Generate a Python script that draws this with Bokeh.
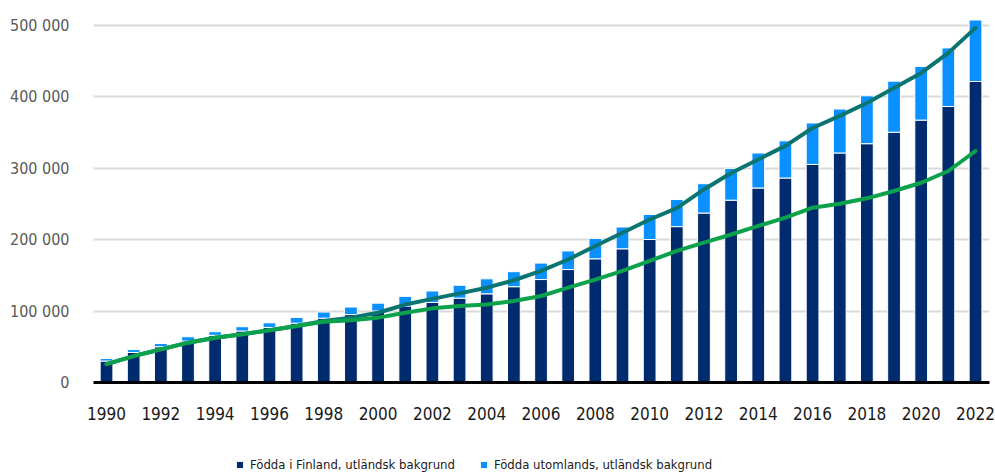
from bokeh.plotting import figure
from bokeh.layouts import column
from bokeh.models import ColumnDataSource, FixedTicker, Legend, LegendItem, Range1d
from bokeh.embed import file_html
from bokeh.resources import INLINE

years = [1990, 1991, 1992, 1993, 1994, 1995, 1996, 1997, 1998, 1999, 2000,
         2001, 2002, 2003, 2004, 2005, 2006, 2007, 2008, 2009, 2010, 2011,
         2012, 2013, 2014, 2015, 2016, 2017, 2018, 2019, 2020, 2021, 2022]

# Födda i Finland, utländsk bakgrund
born_in_finland = [30000, 42000, 50000, 58000, 66000, 72000, 77000, 83000, 90000, 95000, 100000,
                   107000, 112000, 118000, 124000, 134000, 144000, 158000, 173000, 187000, 200000, 218000,
                   237000, 255000, 272000, 286000, 305000, 321000, 334000, 350000, 367000, 386000, 421000]

# Födda utomlands, utländsk bakgrund
born_abroad = [3500, 4000, 4500, 6000, 5000, 6000, 6500, 8000, 8500, 10500, 11000,
               13500, 16000, 18000, 21000, 21000, 23000, 26000, 28500, 30500, 35000, 38000,
               41000, 44500, 49000, 52000, 58000, 61500, 67000, 71500, 75000, 82000, 86000]

# teal line (upper)
line_upper = [25600, 37000, 46400, 55700, 62700, 67400, 73000, 79000, 86000, 90700, 97600,
              109000, 117000, 124700, 132600, 143000, 156000, 172000, 191000, 209500, 228000, 244000,
              270000, 293000, 312000, 331000, 356000, 373000, 391000, 412000, 433000, 461000, 496000]

# green line (lower)
line_lower = [25600, 37000, 46400, 55700, 62700, 67400, 73000, 79000, 85000, 87000, 90700,
              97600, 103700, 107000, 109000, 114000, 121000, 132600, 144000, 156000, 170000, 184000,
              195600, 207000, 219000, 230500, 244500, 250000, 257600, 267800, 279400, 295800, 323800]

x_tick_years = [1990, 1992, 1994, 1996, 1998, 2000, 2002, 2004, 2006, 2008, 2010,
                2012, 2014, 2016, 2018, 2020, 2022]
y_ticks = [0, 100000, 200000, 300000, 400000, 500000]
y_tick_labels = ["0", "100 000", "200 000", "300 000", "400 000", "500 000"]

legend_labels = ["Födda i Finland, utländsk bakgrund", "Födda utomlands, utländsk bakgrund"]

NAVY = "#002B6E"
LIGHT = "#0A91FF"
TEAL = "#0A7570"
GREEN = "#0CA24C"
FONT = "'DejaVu Sans Condensed', 'Liberation Sans Narrow', Roboto, sans-serif"

source = ColumnDataSource(data=dict(
    year=years,
    fi=born_in_finland,
    abroad=born_abroad,
))

p = figure(width=995, height=422, output_backend="svg", toolbar_location=None,
           x_range=Range1d(1989.52, 2022.515), y_range=Range1d(0, 520300),
           min_border_left=93, min_border_right=6, min_border_top=10, min_border_bottom=40)

p.vbar_stack(["fi", "abroad"], x="year", width=0.47, source=source,
             fill_color=[NAVY, LIGHT], line_color="white", line_width=1)

p.line(years, line_upper, line_color=TEAL, line_width=4, line_cap="round", line_join="round")
p.line(years, line_lower, line_color=GREEN, line_width=4, line_cap="round", line_join="round")

p.outline_line_color = None
p.xgrid.grid_line_color = None
p.ygrid.grid_line_color = "#D9D9D9"
p.ygrid.grid_line_width = 2
p.ygrid.ticker = FixedTicker(ticks=y_ticks)

p.yaxis.ticker = FixedTicker(ticks=y_ticks)
p.yaxis.major_label_overrides = {t: l for t, l in zip(y_ticks, y_tick_labels)}
p.yaxis.axis_line_color = None
p.yaxis.major_tick_line_color = None
p.yaxis.minor_tick_line_color = None
p.yaxis.major_label_standoff = 18
p.yaxis.major_label_text_font = FONT
p.yaxis.major_label_text_font_size = "16px"
p.yaxis.major_label_text_color = "#595959"

p.xaxis.ticker = FixedTicker(ticks=x_tick_years)
p.xaxis.axis_line_color = "black"
p.xaxis.axis_line_width = 3
p.xaxis.major_tick_line_color = None
p.xaxis.minor_tick_line_color = None
p.xaxis.major_label_standoff = 18
p.xaxis.major_label_text_font = FONT
p.xaxis.major_label_text_font_size = "17px"
p.xaxis.major_label_text_color = "#1A1A1A"

# legend strip below the chart (same borders as the chart so the columns align)
leg = figure(width=995, height=53, output_backend="svg", toolbar_location=None,
             x_range=Range1d(0, 1), y_range=Range1d(0, 1),
             min_border_left=93, min_border_right=6, min_border_top=0, min_border_bottom=0)
leg.axis.visible = False
leg.grid.visible = False
leg.outline_line_color = None
offscreen = ColumnDataSource(data=dict(x=[-10], top=[-10]))
g1 = leg.vbar(x="x", top="top", width=0.5, source=offscreen, fill_color=NAVY, line_color="white")
g2 = leg.vbar(x="x", top="top", width=0.5, source=offscreen, fill_color=LIGHT, line_color="white")

legend = Legend(items=[LegendItem(label=legend_labels[0], renderers=[g1]),
                       LegendItem(label=legend_labels[1], renderers=[g2])],
                orientation="horizontal", location=(142, 1),
                label_text_font=FONT, label_text_font_size="13px", label_text_color="#1A1A1A",
                glyph_width=9, glyph_height=9, label_standoff=6, spacing=24, label_height=20,
                padding=0, margin=0, border_line_alpha=0, background_fill_alpha=0)
leg.add_layout(legend, "center")

layout = column(p, leg, spacing=0)
open("out.html", "w").write(file_html(layout, INLINE))
